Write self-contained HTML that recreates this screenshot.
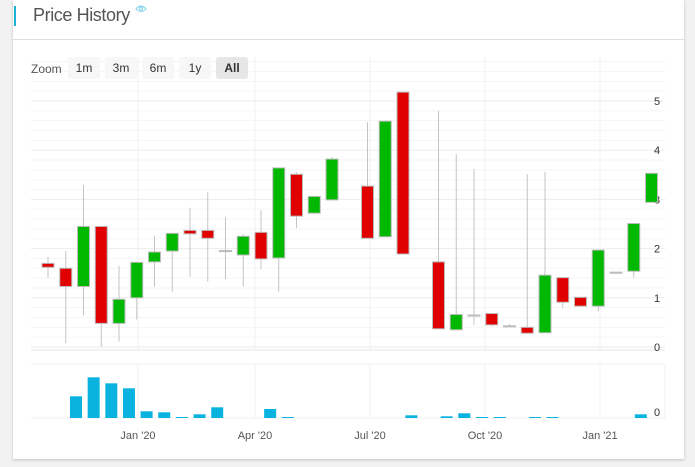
<!DOCTYPE html>
<html><head><meta charset="utf-8"><style>
body{margin:0;width:695px;height:467px;background:#f2f2f2;font-family:"Liberation Sans",sans-serif;overflow:hidden;position:relative}
#card{position:absolute;left:13px;top:0;width:671px;height:459px;background:#fff;box-shadow:0 1px 3px rgba(0,0,0,.2)}
#bar{position:absolute;left:1px;top:6px;width:2px;height:20px;background:#1ab0d9}
#title{position:absolute;left:20px;top:5px;font-size:18px;letter-spacing:-0.4px;color:#555}
#sep{position:absolute;left:0;top:39px;width:671px;height:1px;background:#ddd}
svg{position:absolute;left:0;top:0}
</style></head><body>
<div id="card">
<div id="bar"></div>
<div id="title">Price History</div>
<div id="sep"></div>
</div>
<svg id="chart" width="695" height="467"></svg>
<script>
const opens=[1.70,1.60,1.23,2.45,0.48,1.00,1.73,1.95,2.37,2.37,1.96,1.87,2.33,1.81,3.51,2.72,2.99,null,3.27,2.24,5.18,null,1.73,0.35,0.65,0.68,0.43,0.40,0.29,1.41,1.01,0.83,1.52,1.54,2.94];
const closes=[1.62,1.23,2.45,0.48,0.97,1.72,1.93,2.31,2.30,2.21,1.96,2.25,1.79,3.64,2.66,3.06,3.82,null,2.21,4.59,1.89,null,0.37,0.66,0.65,0.45,0.43,0.28,1.46,0.91,0.83,1.97,1.52,2.51,3.53];
const highs=[1.83,1.95,3.29,2.45,1.65,1.72,2.26,2.31,2.83,3.15,2.64,2.29,2.78,3.64,3.55,3.06,3.86,null,4.57,4.59,5.18,null,4.80,3.92,3.62,0.68,0.47,3.51,3.56,1.41,1.01,1.97,1.52,2.51,3.53];
const lows=[1.41,0.08,0.64,0.01,0.11,0.56,1.23,1.12,1.43,1.33,1.38,1.23,1.58,1.12,2.42,2.72,2.99,null,2.21,2.24,1.89,null,0.37,0.35,0.45,0.42,0.41,0.28,0.29,0.80,0.83,0.72,1.52,1.41,2.94];
const volIdx=[0,1,2,3,4,5,6,7,8,11,12,19,21,22,23,24,26,27,32];
const volumes=[21.7,40.7,34.7,29.7,6.7,5.7,1,3.7,10.7,9,1,2.7,1.7,4.7,1,1,1,1,3.7];
const yTicks=[0,1,2,3,4,5];
const xLabels=["Jan '20","Apr '20","Jul '20","Oct '20","Jan '21"];
const xLabelPos=[5.07,11.66,18.14,24.62,31.1];
const NS="http://www.w3.org/2000/svg",svg=document.getElementById('chart');
const X=i=>48+17.75*i, Y=v=>347-49.2*v, VX=j=>76+17.65*j, VY=v=>418-v;
function el(t,a,p){const e=document.createElementNS(NS,t);for(const k in a)e.setAttribute(k,a[k]);(p||svg).appendChild(e);return e;}
for(let k=0;k<=29;k++){const y=Y(k*0.2);const g=el('line',{x1:31,x2:665,y1:y,y2:y,stroke:k%5==0?'#ebebeb':'#f5f5f5'});

}
xLabelPos.forEach((p,i)=>{const x=X(p);
const g=el('line',{x1:x,x2:x,y1:57,y2:350,stroke:'#f0f0f0'});


const g2=el('line',{x1:x,x2:x,y1:364,y2:418,stroke:'#f0f0f0'});


const t=el('text',{x:x,y:439,'text-anchor':'middle','font-size':11,fill:'#555'});t.textContent=xLabels[i];

});
const b=el('line',{x1:31,x2:665,y1:350,y2:350,stroke:'#e6e6e6'});
const vb=el('path',{d:'M31 364H665V418H31',fill:'none',stroke:'#f2f2f2'});
yTicks.forEach(v=>{const t=el('text',{x:657,y:Y(v)+4,'text-anchor':'middle','font-size':11,fill:'#333'});t.textContent=v;

});
const v0=el('text',{x:657,y:416,'text-anchor':'middle','font-size':11,fill:'#333'});v0.textContent='0';

opens.forEach((o,i)=>{if(o===null)return;const c=closes[i],x=X(i);
const w=el('line',{x1:x,x2:x,y1:Y(highs[i]),y2:Y(lows[i]),stroke:'#c4c4c4'});


const up=c>=o,top=Y(Math.max(o,c)),h=Math.max(1,Math.abs(Y(o)-Y(c)));
const r=el('rect',{x:x-6,y:top,width:12,height:h,fill:up?'#00b800':'#e00000',stroke:'#bbb','stroke-width':1});

});
volumes.forEach((v,j)=>{const x=VX(volIdx[j]);
const r=el('rect',{x:x-6,y:VY(v),width:12,height:v,fill:'#0ab2e0'});

});
const zl=el('text',{x:31,y:73,'font-size':12,fill:'#555'});zl.textContent='Zoom';
['1m','3m','6m','1y','All'].forEach((l,i)=>{const x=68+37*i;const sel=l==='All';
const r=el('rect',{x:x,y:57,width:32,height:22,rx:3,fill:sel?'#e6e6e6':'#f7f7f7'});


const t=el('text',{x:x+16,y:72,'text-anchor':'middle','font-size':12,fill:'#333','font-weight':sel?'bold':'normal'});t.textContent=l;

});
const eg=el('g',{stroke:'#8fd6ea',fill:'none','stroke-width':1.2});


el('path',{d:'M136 9Q141 3 146 9Q141 14 136 9Z'},eg);
el('circle',{cx:141,cy:8.5,r:1.5},eg);
</script>
</body></html>
